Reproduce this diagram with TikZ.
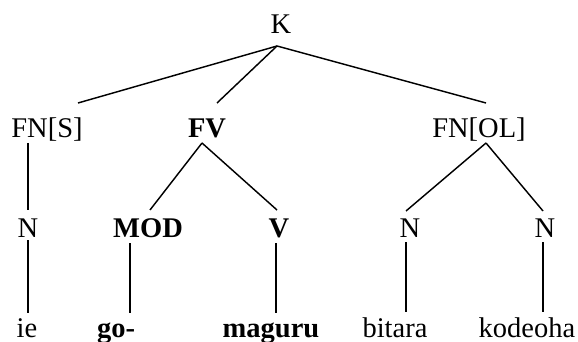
\documentclass[tikz,border=0pt]{standalone}
\usepackage{fontspec}
\setmainfont{Liberation Serif}
\begin{document}
\begin{tikzpicture}[x=1pt,y=-1pt,
  lbl/.style={anchor=base,inner sep=0pt,font=\fontsize{28.5}{30}\selectfont},
  blbl/.style={lbl,font=\fontsize{28.5}{30}\selectfont\bfseries},
  edge/.style={draw,line width=1.45pt}]
\useasboundingbox (0,0) rectangle (578,342);
% nodes
\node[lbl]  (K)    at (281,34)  {K};
\node[lbl]  (FNS)  at (47,138)  {FN[S]};
\node[blbl] (FV)   at (207,138) {FV};
\node[lbl]  (FNOL) at (479,138) {FN[OL]};
\node[lbl]  (N1)   at (28,237)  {N};
\node[blbl] (MOD)  at (148,237) {MOD};
\node[blbl] (V)    at (279,237) {V};
\node[lbl]  (N2)   at (410,237) {N};
\node[lbl]  (N3)   at (545,237) {N};
\node[lbl]  (ie)   at (27,337)  {ie};
\node[blbl] (go)   at (116,337) {go-};
\node[blbl] (mag)  at (271,337) {maguru};
\node[lbl]  (bit)  at (395,337) {bitara};
\node[lbl]  (kod)  at (527,337) {kodeoha};
% attachment points
\coordinate (Kb)    at (277,46);
\coordinate (FNSt)  at (78,103);
\coordinate (FVt)   at (217,103);
\coordinate (FNOLt) at (486,103);
\coordinate (FNSb)  at (28,143);
\coordinate (FVb)   at (202,143);
\coordinate (FNOLb) at (486,143);
\coordinate (N1t)   at (28,210);
\coordinate (MODt)  at (150,210);
\coordinate (Vt)    at (277,210);
\coordinate (N2t)   at (406,211);
\coordinate (N3t)   at (543,211);
\coordinate (N1b)   at (28,240);
\coordinate (MODb)  at (130,243);
\coordinate (Vb)    at (276,243);
\coordinate (N2b)   at (406,242);
\coordinate (N3b)   at (543,242);
\coordinate (iet)   at (28,313);
\coordinate (got)   at (130,313);
\coordinate (magt)  at (276,313);
\coordinate (bitt)  at (406,312);
\coordinate (kodt)  at (543,312);
% connectors
\draw[edge] (Kb) -- (FNSt);
\draw[edge] (Kb) -- (FVt);
\draw[edge] (Kb) -- (FNOLt);
\draw[edge] (FNSb) -- (N1t);
\draw[edge] (FVb) -- (MODt);
\draw[edge] (FVb) -- (Vt);
\draw[edge] (FNOLb) -- (N2t);
\draw[edge] (FNOLb) -- (N3t);
\draw[edge] (N1b) -- (iet);
\draw[edge] (MODb) -- (got);
\draw[edge] (Vb) -- (magt);
\draw[edge] (N2b) -- (bitt);
\draw[edge] (N3b) -- (kodt);
\end{tikzpicture}
\end{document}
